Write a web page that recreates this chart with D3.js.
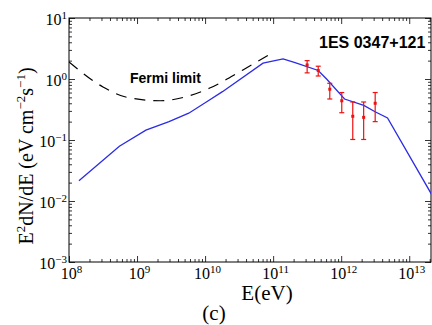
<!DOCTYPE html>
<html>
<head>
<meta charset="utf-8">
<script src="https://cdn.jsdelivr.net/npm/d3@7"></script>
<style>
  body { margin: 0; background: #fff; }
  svg { display: block; }
</style>
</head>
<body>
<div id="chart"></div>
<script>
// model curve (blue)
const modelE = [1.4e8, 5.5e8, 1.35e9, 2.95e9, 5.75e9, 1.1e10, 1.8e10, 7.1e10, 1.4e11, 2.1e11, 4.6e11, 6.2e11, 1.12e12, 2.15e12, 3.15e12, 4.8e12, 2.15e13];
const modelF = [0.0214, 0.079, 0.145, 0.20, 0.275, 0.435, 0.62, 1.82, 2.14, 1.86, 1.38, 0.98, 0.47, 0.37, 0.29, 0.23, 0.0126];

// Fermi limit (dashed)
const fermiE = [1e8, 3.16e8, 7.1e8, 2.2e9, 5.5e9, 1.17e10, 3.6e10, 9.8e10];
const fermiF = [1.9, 0.74, 0.50, 0.44, 0.52, 0.71, 1.41, 2.7];

// observed points (red)
const obsE = [3.16e11, 4.6e11, 6.8e11, 1.02e12, 1.48e12, 2.14e12, 3.16e12];
const obsF = [1.70, 1.38, 0.68, 0.44, 0.245, 0.235, 0.40];
const obsHi = [2.0, 1.62, 0.85, 0.60, 0.42, 0.42, 0.60];
const obsLo = [1.26, 1.12, 0.47, 0.28, 0.102, 0.102, 0.20];

const xMajor = [8, 9, 10, 11, 12, 13];
const yMajor = [-3, -2, -1, 0, 1];

const W = 432, H = 325;
const mLeft = 69, mRight = 431, mTop = 18, mBottom = 262;

const x = d3.scaleLog().domain([1e8, Math.pow(10, 13.32)]).range([mLeft, mRight]);
const y = d3.scaleLog().domain([1e-3, 10]).range([mBottom, mTop]);

const svg = d3.select("#chart").append("svg")
  .attr("width", W).attr("height", H);

svg.append("defs").append("clipPath").attr("id", "clip")
  .append("rect").attr("x", mLeft).attr("y", mTop)
  .attr("width", mRight - mLeft).attr("height", mBottom - mTop);

// minor tick values
const xMinor = [];
for (let e = 8; e <= 13; e++) for (let m = 2; m <= 9; m++) {
  const v = m * Math.pow(10, e);
  if (v < x.domain()[1]) xMinor.push(v);
}
const yMinor = [];
for (let e = -3; e < 1; e++) for (let m = 2; m <= 9; m++) yMinor.push(m * Math.pow(10, e));

const xMaj = xMajor.map(e => Math.pow(10, e));
const yMaj = yMajor.map(e => Math.pow(10, e));

function tickAxis(axisFn, scale, vals, size, transform) {
  const g = svg.append("g").attr("transform", transform)
    .call(axisFn(scale).tickValues(vals).tickSize(-size).tickFormat(""));
  g.select(".domain").remove();
  g.selectAll("line").attr("stroke", "#000").attr("stroke-width", 0.8);
  return g;
}

tickAxis(d3.axisBottom, x, xMinor, 3, `translate(0,${mBottom})`);
tickAxis(d3.axisTop, x, xMinor, 3, `translate(0,${mTop})`);
tickAxis(d3.axisLeft, y, yMinor, 3, `translate(${mLeft},0)`);
tickAxis(d3.axisRight, y, yMinor, 3, `translate(${mRight},0)`);
const gxb = tickAxis(d3.axisBottom, x, xMaj, 6, `translate(0,${mBottom})`);
tickAxis(d3.axisTop, x, xMaj, 6, `translate(0,${mTop})`);
const gyl = tickAxis(d3.axisLeft, y, yMaj, 6, `translate(${mLeft},0)`);
tickAxis(d3.axisRight, y, yMaj, 6, `translate(${mRight},0)`);

// tick labels with superscripts
const serif = "'Liberation Serif', 'Times New Roman', serif";
gxb.selectAll(".tick").each(function(d) {
  const t = d3.select(this).append("text")
    .attr("x", 2).attr("y", 17)
    .attr("text-anchor", "middle")
    .attr("fill", "#000")
    .attr("font-family", serif).attr("font-size", 16);
  t.append("tspan").text("10");
  t.append("tspan").attr("dy", -6).attr("font-size", 11).text(Math.round(Math.log10(d)));
});
gyl.selectAll(".tick").each(function(d) {
  const e = Math.round(Math.log10(d));
  const t = d3.select(this).append("text")
    .attr("x", -2).attr("y", 6)
    .attr("text-anchor", "end")
    .attr("fill", "#000")
    .attr("font-family", serif).attr("font-size", 16);
  t.append("tspan").text("10");
  t.append("tspan").attr("dy", -6).attr("font-size", 11).text(e < 0 ? "\u2212" + (-e) : e);
});

// frame
svg.append("rect")
  .attr("x", mLeft).attr("y", mTop)
  .attr("width", mRight - mLeft).attr("height", mBottom - mTop)
  .attr("fill", "none").attr("stroke", "#000").attr("stroke-width", 1);

const plot = svg.append("g").attr("clip-path", "url(#clip)");

// Fermi limit
const fermi = fermiE.map((e, i) => [e, fermiF[i]]);
plot.append("path")
  .attr("d", d3.line().x(d => x(d[0])).y(d => y(d[1])).curve(d3.curveMonotoneX)(fermi))
  .attr("fill", "none").attr("stroke", "#000")
  .attr("stroke-width", 1.2).attr("stroke-dasharray", "11,8");

// model
const model = modelE.map((e, i) => [e, modelF[i]]);
plot.append("path")
  .attr("d", d3.line().x(d => x(d[0])).y(d => y(d[1]))(model))
  .attr("fill", "none").attr("stroke", "#2b2be6").attr("stroke-width", 1.3);

// observed with error bars
const obs = plot.append("g").selectAll("g")
  .data(obsE.map((e, i) => ({ e, f: obsF[i], hi: obsHi[i], lo: obsLo[i] })))
  .enter().append("g")
  .attr("stroke", "#ee1111").attr("stroke-width", 1.2);
obs.append("line")
  .attr("x1", d => x(d.e)).attr("x2", d => x(d.e))
  .attr("y1", d => y(d.hi)).attr("y2", d => y(d.lo));
obs.append("line")
  .attr("x1", d => x(d.e) - 2.5).attr("x2", d => x(d.e) + 2.5)
  .attr("y1", d => y(d.hi)).attr("y2", d => y(d.hi));
obs.append("line")
  .attr("x1", d => x(d.e) - 2.5).attr("x2", d => x(d.e) + 2.5)
  .attr("y1", d => y(d.lo)).attr("y2", d => y(d.lo));
obs.append("rect")
  .attr("x", d => x(d.e) - 1.5).attr("y", d => y(d.f) - 1.5)
  .attr("width", 3).attr("height", 3)
  .attr("fill", "#ee1111").attr("stroke", "none");

// annotations
svg.append("text")
  .attr("x", 130).attr("y", 83)
  .attr("font-family", "'Liberation Sans', Arial, sans-serif")
  .attr("font-weight", "bold").attr("font-size", 14)
  .text("Fermi limit");
svg.append("text")
  .attr("x", 319).attr("y", 48)
  .attr("font-family", "'Liberation Sans', Arial, sans-serif")
  .attr("font-weight", "bold").attr("font-size", 16)
  .text("1ES 0347+121");

// axis titles
svg.append("text")
  .attr("x", 267).attr("y", 300)
  .attr("text-anchor", "middle")
  .attr("font-family", serif).attr("font-size", 21)
  .text("E(eV)");
svg.append("text")
  .attr("x", 214).attr("y", 320)
  .attr("text-anchor", "middle")
  .attr("font-family", serif).attr("font-size", 21)
  .text("(c)");

const yl = svg.append("text")
  .attr("transform", "translate(33,156) rotate(-90)")
  .attr("text-anchor", "middle")
  .attr("font-family", serif).attr("font-size", 20);
yl.append("tspan").text("E");
yl.append("tspan").attr("dy", -8).attr("font-size", 13).text("2");
yl.append("tspan").attr("dy", 8).text("dN/dE (eV cm");
yl.append("tspan").attr("dy", -8).attr("font-size", 13).text("\u22122");
yl.append("tspan").attr("dy", 8).text("s");
yl.append("tspan").attr("dy", -8).attr("font-size", 13).text("\u22121");
yl.append("tspan").attr("dy", 8).text(")");
</script>
</body>
</html>
